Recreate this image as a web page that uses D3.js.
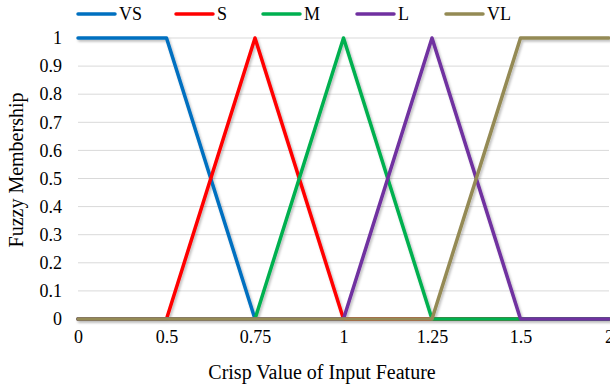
<!DOCTYPE html>
<html>
<head>
<meta charset="utf-8">
<script src="https://cdn.jsdelivr.net/npm/d3@7"></script>
<style>
  html, body { margin: 0; padding: 0; background: #fff; }
  svg { display: block; }
  svg text { font-family: "Liberation Serif", "Times New Roman", serif; fill: #000; }
</style>
</head>
<body>
<svg id="chart" width="610" height="385"></svg>
<script>
// Categories along the x axis (evenly spaced, as in a line chart)
const categories = ["0", "0.5", "0.75", "1", "1.25", "1.5", "2"];

// Membership values for each fuzzy set
const seriesNames = ["VS", "S", "M", "L", "VL"];
const vsValues = [1, 1, 0, 0, 0, 0, 0];
const sValues  = [0, 0, 1, 0, 0, 0, 0];
const mValues  = [0, 0, 0, 1, 0, 0, 0];
const lValues  = [0, 0, 0, 0, 1, 0, 0];
const vlValues = [0, 0, 0, 0, 0, 1, 1];
const seriesColors = ["#0070C0", "#FF0000", "#00B050", "#7030A0", "#948A54"];

const yTicks = [0, 0.1, 0.2, 0.3, 0.4, 0.5, 0.6, 0.7, 0.8, 0.9, 1];

const series = [vsValues, sValues, mValues, lValues, vlValues].map((v, i) => ({
  name: seriesNames[i], values: v, color: seriesColors[i]
}));

const svg = d3.select("#chart");
const plotLeft = 78, plotRight = 609, plotTop = 38, plotBottom = 319;

const x = d3.scalePoint().domain(categories).range([plotLeft, plotRight]);
const y = d3.scaleLinear().domain([0, 1]).range([plotBottom, plotTop]);

// Soft shadow under each line
const defs = svg.append("defs");
const f = defs.append("filter").attr("id", "shadow")
  .attr("x", "-5%").attr("y", "-5%").attr("width", "110%").attr("height", "115%");
f.append("feDropShadow").attr("dx", 1.5).attr("dy", 2).attr("stdDeviation", 1.2)
  .attr("flood-color", "#000").attr("flood-opacity", 0.25);

// Horizontal gridlines
svg.append("g").selectAll("line").data(yTicks.filter(d => d > 0)).join("line")
  .attr("x1", plotLeft).attr("x2", plotRight)
  .attr("y1", d => y(d)).attr("y2", d => y(d))
  .attr("stroke", "#D9D9D9").attr("stroke-width", 1);

const serif = '"Liberation Serif", "Times New Roman", serif';

// Y axis tick labels
const yAxis = d3.axisLeft(y).tickValues(yTicks).tickSize(0).tickPadding(0)
  .tickFormat(d3.format("~g"));
const yg = svg.append("g").attr("transform", `translate(${plotLeft - 16},0)`).call(yAxis);
yg.select(".domain").remove();
yg.selectAll("text").style("font-family", serif).style("font-size", "18px");

// X axis tick labels
const xAxis = d3.axisBottom(x).tickSize(0).tickPadding(0);
const xg = svg.append("g").attr("transform", `translate(0,${plotBottom + 11})`).call(xAxis);
xg.select(".domain").remove();
xg.selectAll("text").style("font-family", serif).style("font-size", "18px");

// Series lines
const line = d3.line().x((d, i) => x(categories[i])).y(d => y(d));
svg.append("g").attr("filter", "url(#shadow)").selectAll("path").data(series).join("path")
  .attr("d", d => line(d.values))
  .attr("fill", "none")
  .attr("stroke", d => d.color)
  .attr("stroke-width", 3.5)
  .attr("stroke-linejoin", "round")
  .attr("stroke-linecap", "round");

// Legend
const legendX = [78, 176, 263, 357, 446];
const lg = svg.append("g").selectAll("g").data(series).join("g")
  .attr("transform", (d, i) => `translate(${legendX[i]},14)`);
lg.append("line").attr("x1", 0).attr("x2", 37).attr("y1", 0).attr("y2", 0)
  .attr("stroke", d => d.color).attr("stroke-width", 3.5).attr("stroke-linecap", "round");
lg.append("text").attr("x", 41).attr("y", 6).style("font-size", "18px").text(d => d.name);

// Axis titles
svg.append("text").attr("x", 322).attr("y", 379)
  .attr("text-anchor", "middle").style("font-size", "20px").text("Crisp Value of Input Feature");
svg.append("text").attr("transform", "translate(23,170) rotate(-90)")
  .attr("text-anchor", "middle").style("font-size", "20px").text("Fuzzy Membership");
</script>
</body>
</html>
